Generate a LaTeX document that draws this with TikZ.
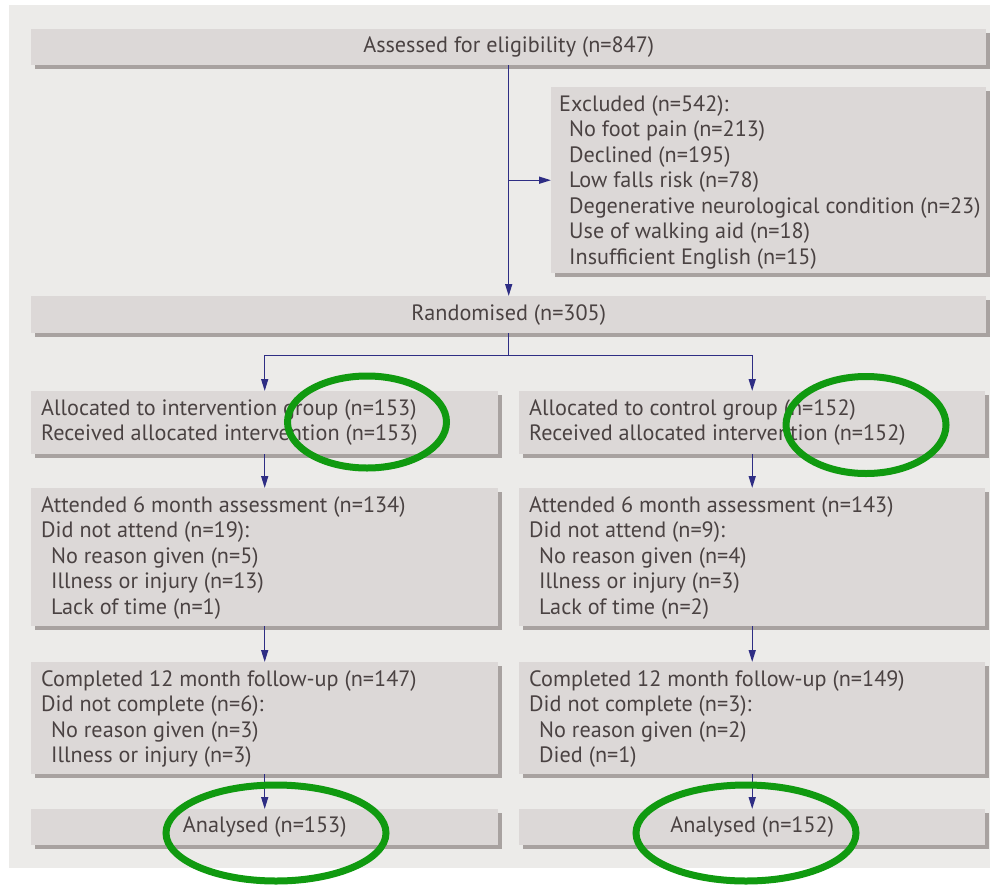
\documentclass[tikz,border=0pt]{standalone}
\usepackage{fontspec}
\setmainfont{PT Sans}
\usetikzlibrary{arrows.meta,shapes.geometric,calc}
\definecolor{panel}{HTML}{ECEBE9}
\definecolor{boxfill}{HTML}{DCD8D7}
\definecolor{shadowc}{HTML}{A8A2A0}
\definecolor{txt}{HTML}{4A4242}
\definecolor{arr}{HTML}{2E2D84}
\definecolor{ring}{HTML}{109A10}
\tikzset{
  flowbox/.style={draw=none, fill=boxfill, rectangle, inner sep=0pt,
    minimum width=#1, anchor=north west},
  flowbox/.default=467pt,
  boxshadow/.style={fill=shadowc},
  flowtext/.style={text=txt, font=\fontsize{22.2}{25.5}\selectfont, inner sep=0pt},
  lefttext/.style={flowtext, align=left, anchor=north west},
  conn/.style={draw=arr, line width=1.4pt, -{Triangle[length=12pt,width=7pt]}},
  plainconn/.style={draw=arr, line width=1.4pt},
  ring/.style={ellipse, draw=ring, line width=7pt, fill=none, inner sep=0pt}
}
\newcommand{\ind}{\hspace*{10pt}}
\begin{document}
\begin{tikzpicture}[x=1pt,y=-1pt]
\useasboundingbox (0,0) rectangle (992,886);
\fill[panel] (9,5) rectangle (990,868);
% shadows
\foreach \a/\b/\c/\d in {31/29/986/65, 551/87/986/273, 31/296/986/333,
  31/391/498/454, 519/391/985/454, 31/488/498/626, 519/488/985/626,
  31/662/498/774, 519/662/985/774, 31/809/498/845, 519/809/985/845}
  {\fill[boxshadow] (\a+4,\b+4) rectangle (\c+4,\d+4);}
% boxes
\node[flowbox=955pt, minimum height=36pt] (top) at (31,29) {};
\node[flowbox=435pt, minimum height=186pt] (excl) at (551,87) {};
\node[flowbox=955pt, minimum height=37pt] (rand) at (31,296) {};
\node[flowbox, minimum height=63pt] (allocL) at (31,391) {};
\node[flowbox=466pt, minimum height=63pt] (allocR) at (519,391) {};
\node[flowbox, minimum height=138pt] (sixL) at (31,488) {};
\node[flowbox=466pt, minimum height=138pt] (sixR) at (519,488) {};
\node[flowbox, minimum height=112pt] (twL) at (31,662) {};
\node[flowbox=466pt, minimum height=112pt] (twR) at (519,662) {};
\node[flowbox, minimum height=36pt] (anL) at (31,809) {};
\node[flowbox=466pt, minimum height=36pt] (anR) at (519,809) {};
% texts
\node[flowtext] (ttop) at (top.center) {Assessed for eligibility (n=847)};
\node[flowtext] (trand) at (rand.center) {Randomised (n=305)};
\node[flowtext] (tanL) at (anL.center) {Analysed (n=153)};
\node[flowtext] (tanR) at (anR.center) {Analysed (n=152)};
\node[lefttext] (texcl) at ($(excl.north west)+(8,8)$) {Excluded (n=542):\\
\ind No foot pain (n=213)\\ \ind Declined (n=195)\\ \ind Low falls risk (n=78)\\
\ind Degenerative neurological condition (n=23)\\ \ind Use of walking aid (n=18)\\
\ind Insufficient English (n=15)};
\node[lefttext] (tallocL) at ($(allocL.north west)+(10,8)$) {Allocated to intervention group (n=153)\\
Received allocated intervention (n=153)};
\node[lefttext] (tallocR) at ($(allocR.north west)+(10,8)$) {Allocated to control group (n=152)\\
Received allocated intervention (n=152)};
\node[lefttext] (tsixL) at ($(sixL.north west)+(10,8)$) {Attended 6 month assessment (n=134)\\
Did not attend (n=19):\\ \ind No reason given (n=5)\\ \ind Illness or injury (n=13)\\
\ind Lack of time (n=1)};
\node[lefttext] (tsixR) at ($(sixR.north west)+(10,8)$) {Attended 6 month assessment (n=143)\\
Did not attend (n=9):\\ \ind No reason given (n=4)\\ \ind Illness or injury (n=3)\\
\ind Lack of time (n=2)};
\node[lefttext] (ttwL) at ($(twL.north west)+(10,8)$) {Completed 12 month follow-up (n=147)\\
Did not complete (n=6):\\ \ind No reason given (n=3)\\ \ind Illness or injury (n=3)};
\node[lefttext] (ttwR) at ($(twR.north west)+(10,8)$) {Completed 12 month follow-up (n=149)\\
Did not complete (n=3):\\ \ind No reason given (n=2)\\ \ind Died (n=1)};
% connectors
\draw[conn] (top.south) -- (rand.north);
\coordinate (exclstart) at (top.south |- excl.west);
\draw[conn] (exclstart) -- (excl.west);
\coordinate (split) at ($(rand.south)+(0,22)$);
\draw[plainconn] (rand.south) -- (split);
\draw[conn] (split) -| (allocL.north);
\draw[conn] (split) -| (allocR.north);
\draw[conn] (allocL.south) -- (sixL.north);
\draw[conn] (allocR.south) -- (sixR.north);
\draw[conn] (sixL.south) -- (twL.north);
\draw[conn] (sixR.south) -- (twR.north);
\draw[conn] (twL.south) -- (anL.north);
\draw[conn] (twR.south) -- (anR.north);
% green rings
\node[ring, minimum width=159pt, minimum height=92pt] (r1) at (367,422) {};
\node[ring, minimum width=160pt, minimum height=97pt] (r2) at (866,425) {};
\node[ring, minimum width=220pt, minimum height=96pt] (r3) at (276,833) {};
\node[ring, minimum width=220pt, minimum height=96pt] (r4) at (746,833) {};
\end{tikzpicture}
\end{document}
